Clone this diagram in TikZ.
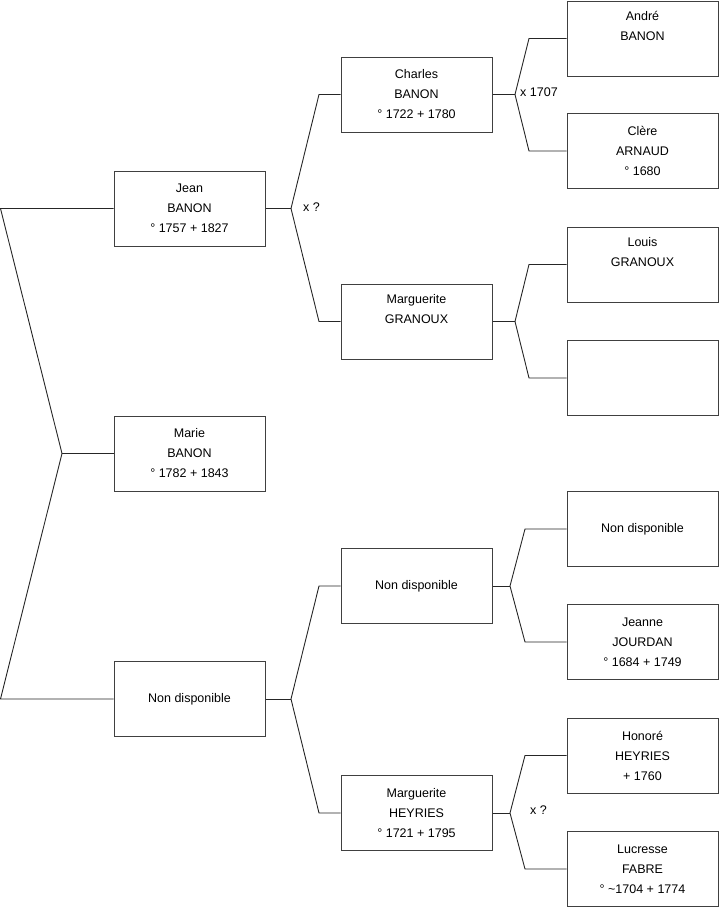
\documentclass[tikz,border=0pt]{standalone}
\usepackage{fontspec}
\setmainfont{Liberation Sans}
\begin{document}
\begin{tikzpicture}[x=1pt,y=-1pt,
  person/.style={draw=black!75,line width=1pt,minimum width=151pt,minimum height=75pt,inner sep=0pt,align=center,font=\fontsize{12.5}{20}\selectfont,fill=white},
  link/.style={draw=black!85,line width=0.9pt},
  mlabel/.style={font=\fontsize{12.5}{15}\selectfont,inner sep=0pt}]
\useasboundingbox (0,0) rectangle (719,908);
% generation 1
\node[person] (jean) at (189.5,208.5) {Jean\\BANON\\° 1757 + 1827};
\node[person] (marie) at (189.5,453.5) {Marie\\BANON\\° 1782 + 1843};
\node[person] (nd1) at (189.5,699) {Non disponible};
% generation 2
\node[person] (charles) at (416.5,94.5) {Charles\\BANON\\° 1722 + 1780};
\node[person] (granoux) at (416.5,321.5) {Marguerite\\GRANOUX\\\strut};
\node[person] (nd2) at (416.5,586) {Non disponible};
\node[person] (heyries) at (416.5,813) {Marguerite\\HEYRIES\\° 1721 + 1795};
% generation 3
\node[person] (andre) at (642.5,38.5) {André\\BANON\\\strut};
\node[person] (clere) at (642.5,151) {Clère\\ARNAUD\\° 1680};
\node[person] (louis) at (642.5,264.5) {Louis\\GRANOUX\\\strut};
\node[person] (empty) at (642.5,378) {};
\node[person] (nd3) at (642.5,529) {Non disponible};
\node[person] (jeanne) at (642.5,642) {Jeanne\\JOURDAN\\° 1684 + 1749};
\node[person] (honore) at (642.5,755.5) {Honoré\\HEYRIES\\+ 1760};
\node[person] (lucresse) at (642.5,869) {Lucresse\\FABRE\\° \textasciitilde1704 + 1774};
% fork coordinates
\coordinate (fR) at (62,453.5);
\coordinate (rT) at (0.5,208.5);
\coordinate (rB) at (0.5,699);
\coordinate (fJ) at (291,208.5);
\coordinate (jT) at (319,94.5);
\coordinate (jB) at (319,321.5);
\coordinate (fN) at (291,699);
\coordinate (nT) at (319,586);
\coordinate (nB) at (319,813);
\coordinate (fC) at (515,94.5);
\coordinate (cT) at (529,38.5);
\coordinate (cB) at (529,151);
\coordinate (fG) at (515,321.5);
\coordinate (gT) at (529,264.5);
\coordinate (gB) at (529,378);
\coordinate (fD) at (510,586);
\coordinate (dT) at (525,529);
\coordinate (dB) at (525,642);
\coordinate (fH) at (510,813);
\coordinate (hT) at (525,755.5);
\coordinate (hB) at (525,869);
% connectors
\draw[link] (marie.west) -- (fR);
\draw[link] (jean.west) -- (rT) -- (fR) -- (rB) -- (nd1.west);
\draw[link] (jean.east) -- (fJ);
\draw[link] (charles.west) -- (jT) -- (fJ) -- (jB) -- (granoux.west);
\draw[link] (nd1.east) -- (fN);
\draw[link] (nd2.west) -- (nT) -- (fN) -- (nB) -- (heyries.west);
\draw[link] (charles.east) -- (fC);
\draw[link] (andre.west) -- (cT) -- (fC) -- (cB) -- (clere.west);
\draw[link] (granoux.east) -- (fG);
\draw[link] (louis.west) -- (gT) -- (fG) -- (gB) -- (empty.west);
\draw[link] (nd2.east) -- (fD);
\draw[link] (nd3.west) -- (dT) -- (fD) -- (dB) -- (jeanne.west);
\draw[link] (heyries.east) -- (fH);
\draw[link] (honore.west) -- (hT) -- (fH) -- (hB) -- (lucresse.west);
% marriage labels
\node[mlabel,anchor=west] (m1) at (303,207.5) {x ?};
\node[mlabel,anchor=west] (m2) at (520,92.5) {x 1707};
\node[mlabel,anchor=west] (m3) at (530,810) {x ?};
\end{tikzpicture}
\end{document}
